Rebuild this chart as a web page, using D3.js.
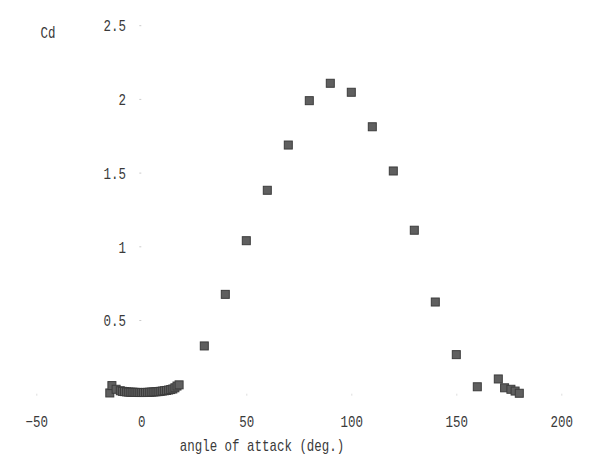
<!DOCTYPE html>
<html>
<head>
<meta charset="utf-8">
<script src="https://cdn.jsdelivr.net/npm/d3@7"></script>
<style>
  html, body { margin: 0; padding: 0; background: #fff; }
  svg { display: block; }
  text { font-family: "Liberation Mono", "DejaVu Sans Mono", monospace; fill: #3a3a3a; }
</style>
</head>
<body>
<svg id="chart" width="590" height="459"></svg>
<script>
// Drag coefficient versus angle of attack
const angles = [
  -15, -14, -12, -10, -9, -8, -7, -6, -5, -4, -3, -2, -1,
  0, 1, 2, 3, 4, 5, 6, 7, 8, 9, 10, 11, 12, 13, 14, 15, 16, 17, 18,
  30, 40, 50, 60, 70, 80, 90, 100, 110, 120, 130, 140, 150,
  160, 170, 173, 176, 178, 180
];
const cd = [
  0.005, 0.055, 0.03, 0.02, 0.016, 0.014, 0.012, 0.011, 0.010, 0.010, 0.009, 0.009, 0.008,
  0.008, 0.008, 0.009, 0.009, 0.010, 0.011, 0.012, 0.013, 0.014, 0.016, 0.018, 0.020, 0.022, 0.025, 0.028, 0.032, 0.040, 0.052, 0.060,
  0.324, 0.674, 1.038, 1.380, 1.687, 1.988, 2.106, 2.045, 1.811, 1.511, 1.109, 0.622, 0.265,
  0.047, 0.10, 0.04, 0.03, 0.018, 0.003
];
const xTicks = [-50, 0, 50, 100, 150, 200];
const yTicks = [0.5, 1, 1.5, 2, 2.5];
const xTitle = "angle of attack (deg.)";
const yTitle = "Cd";

// narrow, tall lettering
const squeeze = 0.78;
const fontSize = "16px";

const svg = d3.select("#chart");
const x = d3.scaleLinear().domain([-50, 200]).range([36.3, 561.3]);
const y = d3.scaleLinear().domain([0, 2.5]).range([393.7, 25.2]);

// x axis: labels only, faint tick dots
const xAxis = svg.append("g")
  .attr("transform", `translate(0,${y(0)})`)
  .call(d3.axisBottom(x).tickValues(xTicks).tickFormat(d3.format("d")).tickSize(2));
xAxis.select(".domain").remove();
xAxis.selectAll(".tick line").attr("stroke", "#ddd");
xAxis.selectAll(".tick text")
  .style("font-size", fontSize)
  .attr("fill", "#3a3a3a")
  .attr("y", 33).attr("dy", 0)
  .attr("transform", `scale(${squeeze},1)`);

// y axis: labels only, faint tick dots
const yAxis = svg.append("g")
  .attr("transform", `translate(${x(0)},0)`)
  .call(d3.axisLeft(y).tickValues(yTicks).tickFormat(d => String(d)).tickSize(2));
yAxis.select(".domain").remove();
yAxis.selectAll(".tick line").attr("stroke", "#ccc");
yAxis.selectAll(".tick text")
  .style("font-size", fontSize)
  .attr("fill", "#3a3a3a")
  .attr("x", -15.3 / squeeze)
  .attr("dy", "0.36em")
  .attr("transform", `scale(${squeeze},1)`);

// axis titles
svg.append("text")
  .attr("transform", `translate(48,38) scale(${squeeze},1)`)
  .attr("text-anchor", "middle")
  .style("font-size", fontSize)
  .text(yTitle);
svg.append("text")
  .attr("transform", `translate(262,451) scale(${squeeze},1)`)
  .attr("text-anchor", "middle")
  .style("font-size", fontSize)
  .text(xTitle);

// square markers
const s = 8;
svg.append("g").selectAll("rect")
  .data(angles.map((a, i) => ({ a, v: cd[i] })))
  .join("rect")
  .attr("x", d => x(d.a) - s / 2)
  .attr("y", d => y(d.v) - s / 2)
  .attr("width", s)
  .attr("height", s)
  .attr("fill", "#5f5f5f")
  .attr("stroke", "#3c3c3c")
  .attr("stroke-width", 1);
</script>
</body>
</html>
